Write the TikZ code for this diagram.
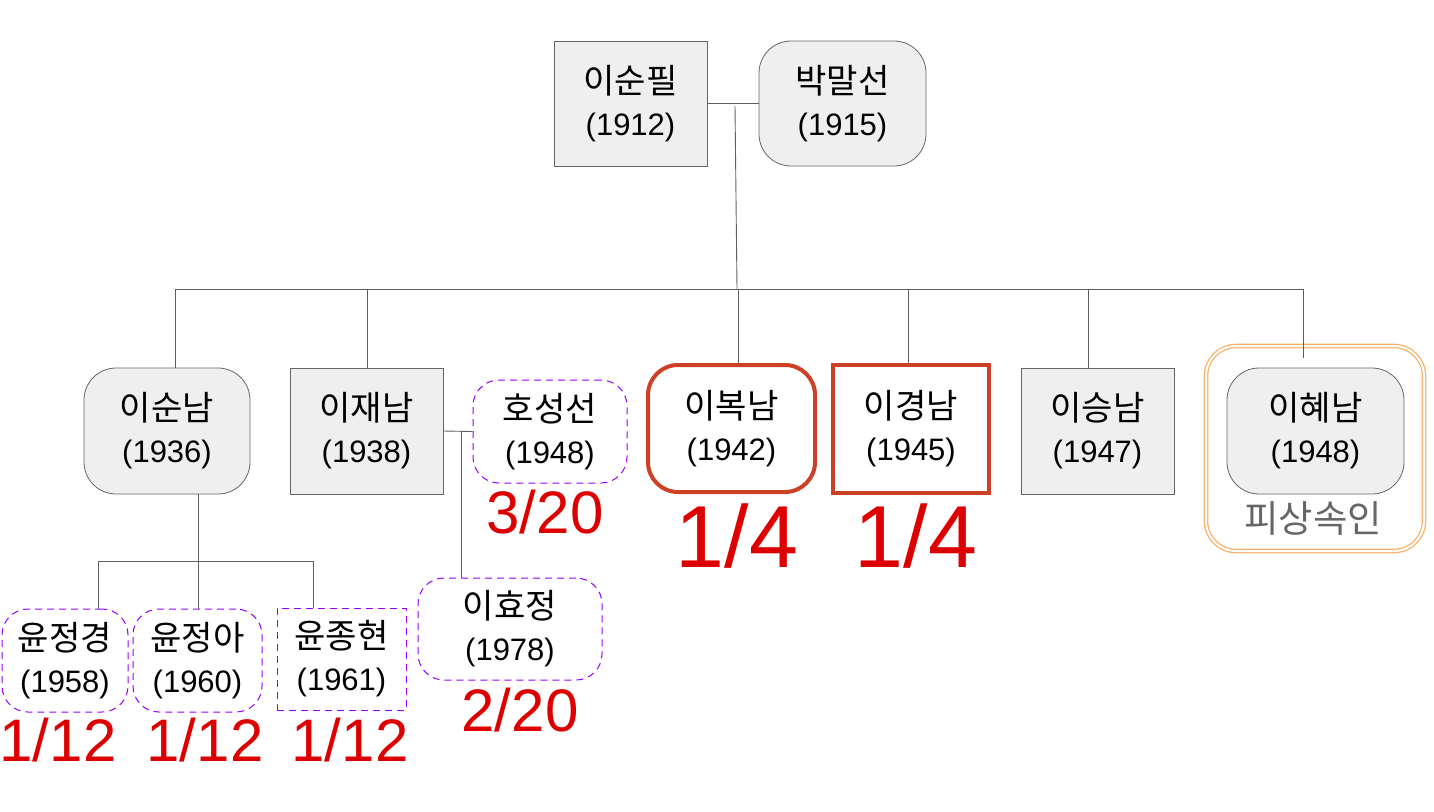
\documentclass[tikz,border=0pt]{standalone}
\usepackage{fontspec}
\setmainfont{Liberation Sans}
\newfontfamily\kr[Scale=1.1]{Noto Sans CJK KR}
\definecolor{boxfill}{HTML}{EFEFEF}
\definecolor{boxline}{HTML}{666666}
\definecolor{linegray}{HTML}{5F5F5F}
\definecolor{redline}{HTML}{CC4125}
\definecolor{fracred}{HTML}{DD0000}
\definecolor{dashpurple}{HTML}{9900FF}
\definecolor{orangeline}{HTML}{F6B26B}
\definecolor{graytext}{HTML}{666666}
\tikzset{
  person/.style={draw=boxline, fill=boxfill, line width=0.8pt, align=center, inner sep=0pt,
    font=\fontsize{31}{42}\selectfont},
  rectp/.style={person},
  roundp/.style={person, rounded corners=32pt},
  dashp/.style={person, fill=white, draw=dashpurple, dash pattern=on 7pt off 5pt, line width=1pt, rounded corners=26pt},
  dashrect/.style={person, fill=white, draw=dashpurple, dash pattern=on 7pt off 5pt, line width=1pt},
  redround/.style={person, fill=white, draw=redline, line width=4pt, rounded corners=30pt},
  redrect/.style={person, fill=white, draw=redline, line width=4pt},
  link/.style={draw=linegray, line width=0.9pt},
  fracbig/.style={text=fracred, inner sep=0pt, font=\fontsize{88}{88}\selectfont},
  fracmid/.style={text=fracred, inner sep=0pt, font=\fontsize{60}{60}\selectfont},
}
\begin{document}
\begin{tikzpicture}[x=1pt,y=-1pt]
\useasboundingbox (0,0) rectangle (1434,811);
% top couple
\node[rectp, minimum width=153pt, minimum height=125pt] (spp) at (630.5,103.5) {\kr 이순필\\(1912)};
\node[roundp, minimum width=167pt, minimum height=125pt] (pms) at (842.5,103.5) {\kr 박말선\\(1915)};
% children
\node[roundp, minimum width=166pt, minimum height=126pt] (snm) at (167,431) {\kr 이순남\\(1936)};
\node[rectp, minimum width=153pt, minimum height=126pt] (jnm) at (366.5,431) {\kr 이재남\\(1938)};
\node[dashp, minimum width=154pt, minimum height=103pt] (hss) at (550,431.5) {\kr 호성선\\(1948)};
\node[redround, minimum width=167pt, minimum height=127pt] (bnm) at (731.5,428.5) {\kr 이복남\\(1942)};
\node[redrect, minimum width=156pt, minimum height=128pt] (knm) at (911,429) {\kr 이경남\\(1945)};
\node[rectp, minimum width=153pt, minimum height=126pt] (snm2) at (1097.5,431) {\kr 이승남\\(1947)};
\node[draw=orangeline, double=white, double distance=2pt, line width=1.3pt, rounded corners=30pt,
      minimum width=218pt, minimum height=205pt, inner sep=0pt] (heir) at (1315,448.5) {};
\node[roundp, minimum width=177pt, minimum height=126pt] (hnm) at (1315.5,431) {\kr 이혜남\\(1948)};
\node[text=graytext, inner sep=0pt, font=\fontsize{34}{34}\selectfont] (heirlbl) at (1313,518) {\kr 피상속인};
% grandchildren
\node[dashp, minimum width=126pt, minimum height=103pt] (yjk) at (65,660.5) {\kr 윤정경\\(1958)};
\node[dashp, minimum width=129pt, minimum height=103pt] (yja) at (197.5,660.5) {\kr 윤정아\\(1960)};
\node[dashrect, minimum width=129pt, minimum height=102pt] (yjh) at (341.5,659) {\kr 윤종현\\(1961)};
\node[dashp, minimum width=184pt, minimum height=102pt] (hj) at (510,629) {\kr 이효정\\(1978)};
% fractions
\node[fracmid] (f1) at (545,512) {3/20};
\node[fracbig] (f2) at (737,536) {1/4};
\node[fracbig] (f3) at (916,536) {1/4};
\node[fracmid] (f4) at (58,740) {1/12};
\node[fracmid] (f5) at (205,740) {1/12};
\node[fracmid] (f6) at (350,740) {1/12};
\node[fracmid] (f7) at (520,710) {2/20};
% connectors
\draw[link] (spp.east) -- (pms.west);
\coordinate (m1) at (735,106);
\coordinate (bar) at (737,289);
\coordinate (barL) at (175,289);
\coordinate (barR) at (1303,289);
\draw[link] (m1) -- (bar);
\draw[link] (barL) -- (barR);
\coordinate (d1) at (175,289);
\coordinate (d2) at (367,289);
\coordinate (d3) at (738,289);
\coordinate (d4) at (908,289);
\coordinate (d5) at (1088,289);
\coordinate (d6) at (1303,289);
\coordinate (d6e) at (1303,358);
\draw[link] (d1) -- (d1 |- snm.north);
\draw[link] (d2) -- (d2 |- jnm.north);
\draw[link] (d3) -- (d3 |- bnm.north);
\draw[link] (d4) -- (d4 |- knm.north);
\draw[link] (d5) -- (d5 |- snm2.north);
\draw[link] (d6) -- (d6e);
% 이재남 - 호성선
\draw[link] (jnm.east) -- (hss.west);
\coordinate (m2) at (461,431);
\draw[link] (m2) -- (m2 |- hj.north);
% 이순남 children
\coordinate (g0) at (198,494);
\coordinate (gL) at (98,561);
\coordinate (gR) at (313,561);
\draw[link] (g0) -- (g0 |- yja.north);
\draw[link] (gL) -- (gR);
\draw[link] (gL) -- (gL |- yjk.north);
\draw[link] (gR) -- (gR |- yjh.north);
\end{tikzpicture}
\end{document}
